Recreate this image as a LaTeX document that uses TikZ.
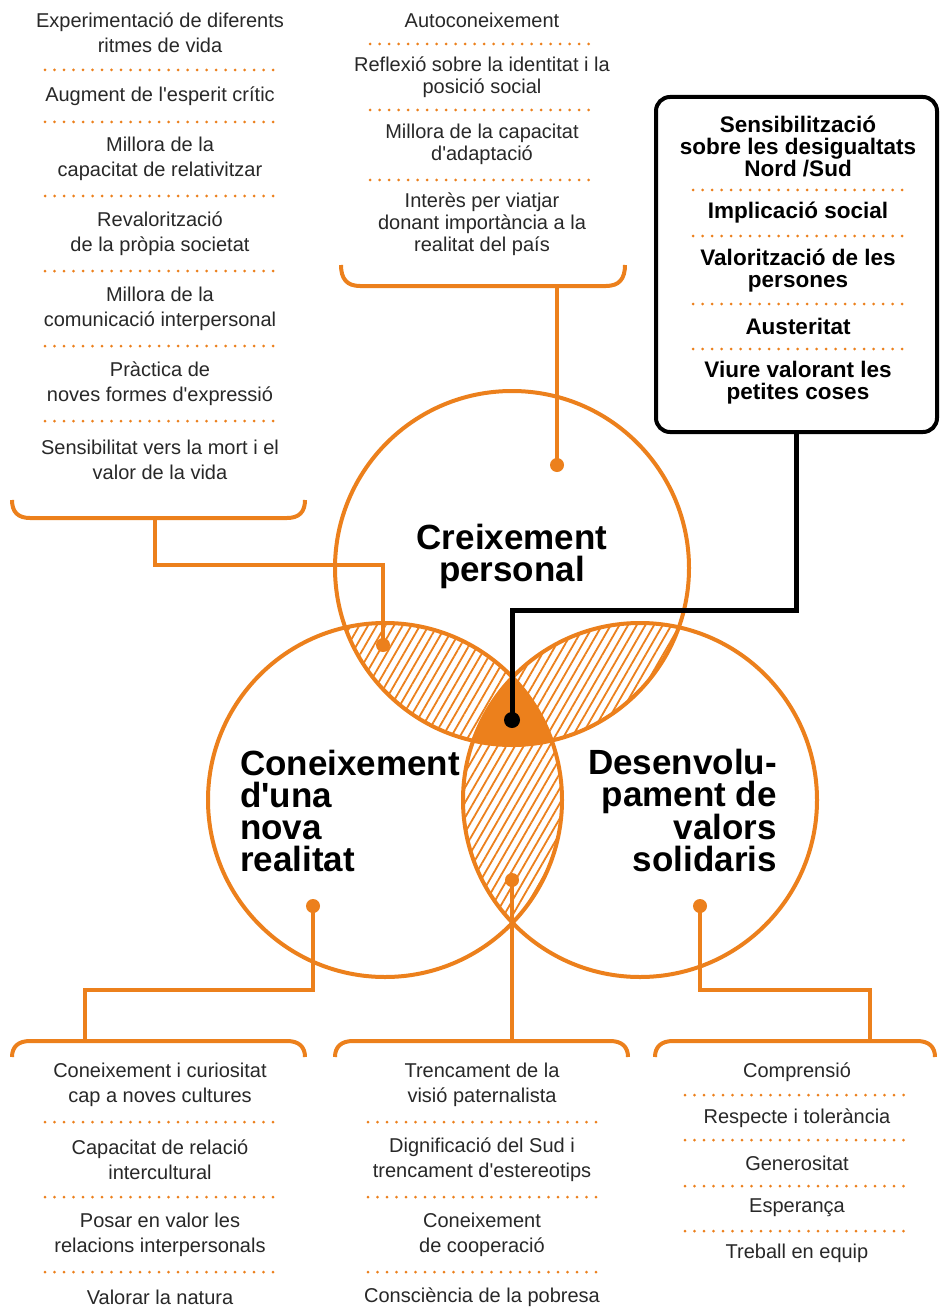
\documentclass[tikz,border=0pt]{standalone}
\usepackage{fontspec}
\setmainfont{Liberation Sans}
\usetikzlibrary{patterns.meta}
\definecolor{org}{RGB}{236,128,28}
\definecolor{txt}{RGB}{40,40,40}
\newcommand\ap{\textquotesingle}
\begin{document}
\begin{tikzpicture}[x=1pt,y=-1pt,
  item/.style={align=center, text=txt, inner sep=0pt, font=\fontsize{20}{25}\selectfont},
  itemm/.style={item, font=\fontsize{20}{22}\selectfont},
  bitem/.style={align=center, text=black, inner sep=0pt, font=\bfseries\fontsize{22.5}{22}\selectfont},
  big/.style={inner sep=0pt, text=black, font=\bfseries\fontsize{35}{32}\selectfont},
  dotsep/.style={org, line width=3pt, line cap=round, dash pattern=on 0pt off 9.5pt},
  ring/.style={draw=org, line width=4pt},
  conn/.style={draw=org, line width=4pt},
  brack/.style={draw=org, line width=4pt},
  odot/.style={circle, fill=org, inner sep=0pt, minimum size=14pt},
  kdot/.style={circle, fill=black, inner sep=0pt, minimum size=16pt},
  hatch/.style={pattern={Lines[angle=60,distance=7.5pt,line width=1.8pt]}, pattern color=org}]
\useasboundingbox (0,0) rectangle (939,1308);
\fill[white] (0,0) rectangle (939,1308);

% centres
\coordinate (T) at (512,568);
\coordinate (L) at (385,800);
\coordinate (R) at (640,800);
\def\rr{177}

% hatched pairwise intersections
\begin{scope}\clip (T) circle (\rr); \fill[hatch] (L) circle (\rr); \end{scope}
\begin{scope}\clip (T) circle (\rr); \fill[hatch] (R) circle (\rr); \end{scope}
\begin{scope}\clip (L) circle (\rr); \fill[hatch] (R) circle (\rr); \end{scope}
% triple intersection
\begin{scope}\clip (T) circle (\rr); \clip (L) circle (\rr); \fill[org] (R) circle (\rr); \end{scope}

% circles
\draw[ring] (T) circle (\rr);
\draw[ring] (L) circle (\rr);
\draw[ring] (R) circle (\rr);

% circle labels
\node[big, align=center] (cp) at (512,556) {Creixement\\personal};
\node[big, align=left, anchor=west] (cn) at (240,810.5) {Coneixement\\d\ap una\\nova\\realitat};
\node[big, align=right, anchor=east] (dv) at (777,810.5) {Desenvolu-\\pament de\\valors\\solidaris};

% ---------- top-left column ----------
\node[item] (l1) at (160,32.5) {Experimentació de diferents\\ritmes de vida};
\node[item] (l2) at (160,96) {Augment de l\ap esperit crític};
\node[item] (l3) at (160,158.5) {Millora de la\\capacitat de relativitzar};
\node[item] (l4) at (160,233.5) {Revalorització\\de la pròpia societat};
\node[item] (l5) at (160,308.5) {Millora de la\\comunicació interpersonal};
\node[item] (l6) at (160,383.5) {Pràctica de\\noves formes d\ap expressió};
\node[item] (l7) at (160,459.5) {Sensibilitat vers la mort i el\\valor de la vida};
\foreach \y in {70,122,196,271,346,421} \draw[dotsep] (45,\y) -- (276,\y);
\draw[brack] (12,500) .. controls (12,512) and (18,518) .. (30,518) -- (287,518) .. controls (299,518) and (305,512) .. (305,500);

% ---------- top-middle column ----------
\node[itemm] (m1) at (482,20) {Autoconeixement};
\node[itemm] (m2) at (482,77.5) {Reflexió sobre la identitat i la\\posició social};
\node[itemm] (m3) at (482,144.5) {Millora de la capacitat\\d\ap adaptació};
\node[itemm] (m4) at (482,224.5) {Interès per viatjar\\donant importància a la\\realitat del país};
\foreach \y in {44,110,180} \draw[dotsep] (370,\y) -- (597,\y);
\draw[brack] (341,265) .. controls (341,279) and (347,286) .. (360,286) -- (606,286) .. controls (619,286) and (625,279) .. (625,265);

% ---------- black box ----------
\node[draw=black, line width=4pt, rounded corners=14pt, minimum width=281pt, minimum height=335pt, inner sep=0pt] (box) at (796.5,264.5) {};
\node[bitem] (b1) at (798,146) {Sensibilització\\sobre les desigualtats\\Nord /Sud};
\node[bitem] (b2) at (798,213) {Implicació social};
\node[bitem] (b3) at (798,270.5) {Valorització de les\\persones};
\node[bitem] (b4) at (798,326) {Austeritat};
\node[bitem] (b5) at (798,383) {Viure valorant les\\petites coses};
\foreach \y in {190,236,304,349} \draw[dotsep] (693,\y) -- (904,\y);

% ---------- bottom-left column ----------
\node[item] (c1) at (160,1084.5) {Coneixement i curiositat\\cap a noves cultures};
\node[item] (c2) at (160,1159.5) {Capacitat de relació\\intercultural};
\node[item] (c3) at (160,1234.5) {Posar en valor les\\relacions interpersonals};
\node[item] (c4) at (160,1297) {Valorar la natura};
\foreach \y in {1122,1197,1272} \draw[dotsep] (45,\y) -- (276,\y);
\draw[brack] (12,1057) .. controls (12,1047) and (18,1041) .. (30,1041) -- (287,1041) .. controls (299,1041) and (305,1047) .. (305,1057);

% ---------- bottom-middle column ----------
\node[item] (d1) at (482,1084.5) {Trencament de la\\visió paternalista};
\node[item] (d2) at (482,1159.5) {Dignificació del Sud i\\trencament d\ap estereotips};
\node[item] (d3) at (482,1234.5) {Coneixement\\de cooperació};
\node[item] (d4) at (482,1297) {Consciència de la pobresa};
\foreach \y in {1122,1197,1272} \draw[dotsep] (368,\y) -- (597,\y);
\draw[brack] (335,1057) .. controls (335,1047) and (341,1041) .. (353,1041) -- (610,1041) .. controls (622,1041) and (628,1047) .. (628,1057);

% ---------- bottom-right column ----------
\node[item] (e1) at (797,1072) {Comprensió};
\node[item] (e2) at (797,1118) {Respecte i tolerància};
\node[item] (e3) at (797,1163) {Generositat};
\node[item] (e4) at (797,1208) {Esperança};
\node[item] (e5) at (797,1253) {Treball en equip};
\foreach \y in {1095,1140,1186,1231} \draw[dotsep] (685,\y) -- (911,\y);
\draw[brack] (655,1057) .. controls (655,1047) and (661,1041) .. (673,1041) -- (917,1041) .. controls (929,1041) and (935,1047) .. (935,1057);

% ---------- connectors ----------
\coordinate (sTL) at (155,518);
\coordinate (kTL) at (383,565);
\node[odot] (dTL) at (383,645) {};
\draw[conn] (sTL) |- (kTL) -- (dTL.center);

\coordinate (sTM) at (557,286);
\node[odot] (dTM) at (557,465) {};
\draw[conn] (sTM) -- (dTM.center);

\coordinate (sBL) at (85,1041);
\coordinate (kBL) at (313,990);
\node[odot] (dBL) at (313,906) {};
\draw[conn] (dBL.center) -- (kBL) -| (sBL);

\coordinate (sBM) at (512,1041);
\node[odot] (dBM) at (512,880) {};
\draw[conn] (dBM.center) -- (sBM);

\coordinate (sBR) at (870,1041);
\coordinate (kBR) at (700,990);
\node[odot] (dBR) at (700,906) {};
\draw[conn] (dBR.center) -- (kBR) -| (sBR);

% black connector
\coordinate (kK) at (512,610);
\node[kdot] (dK) at (512,720) {};
\draw[line width=5pt] (box.south) |- (kK) -- (dK.center);
\end{tikzpicture}
\end{document}
